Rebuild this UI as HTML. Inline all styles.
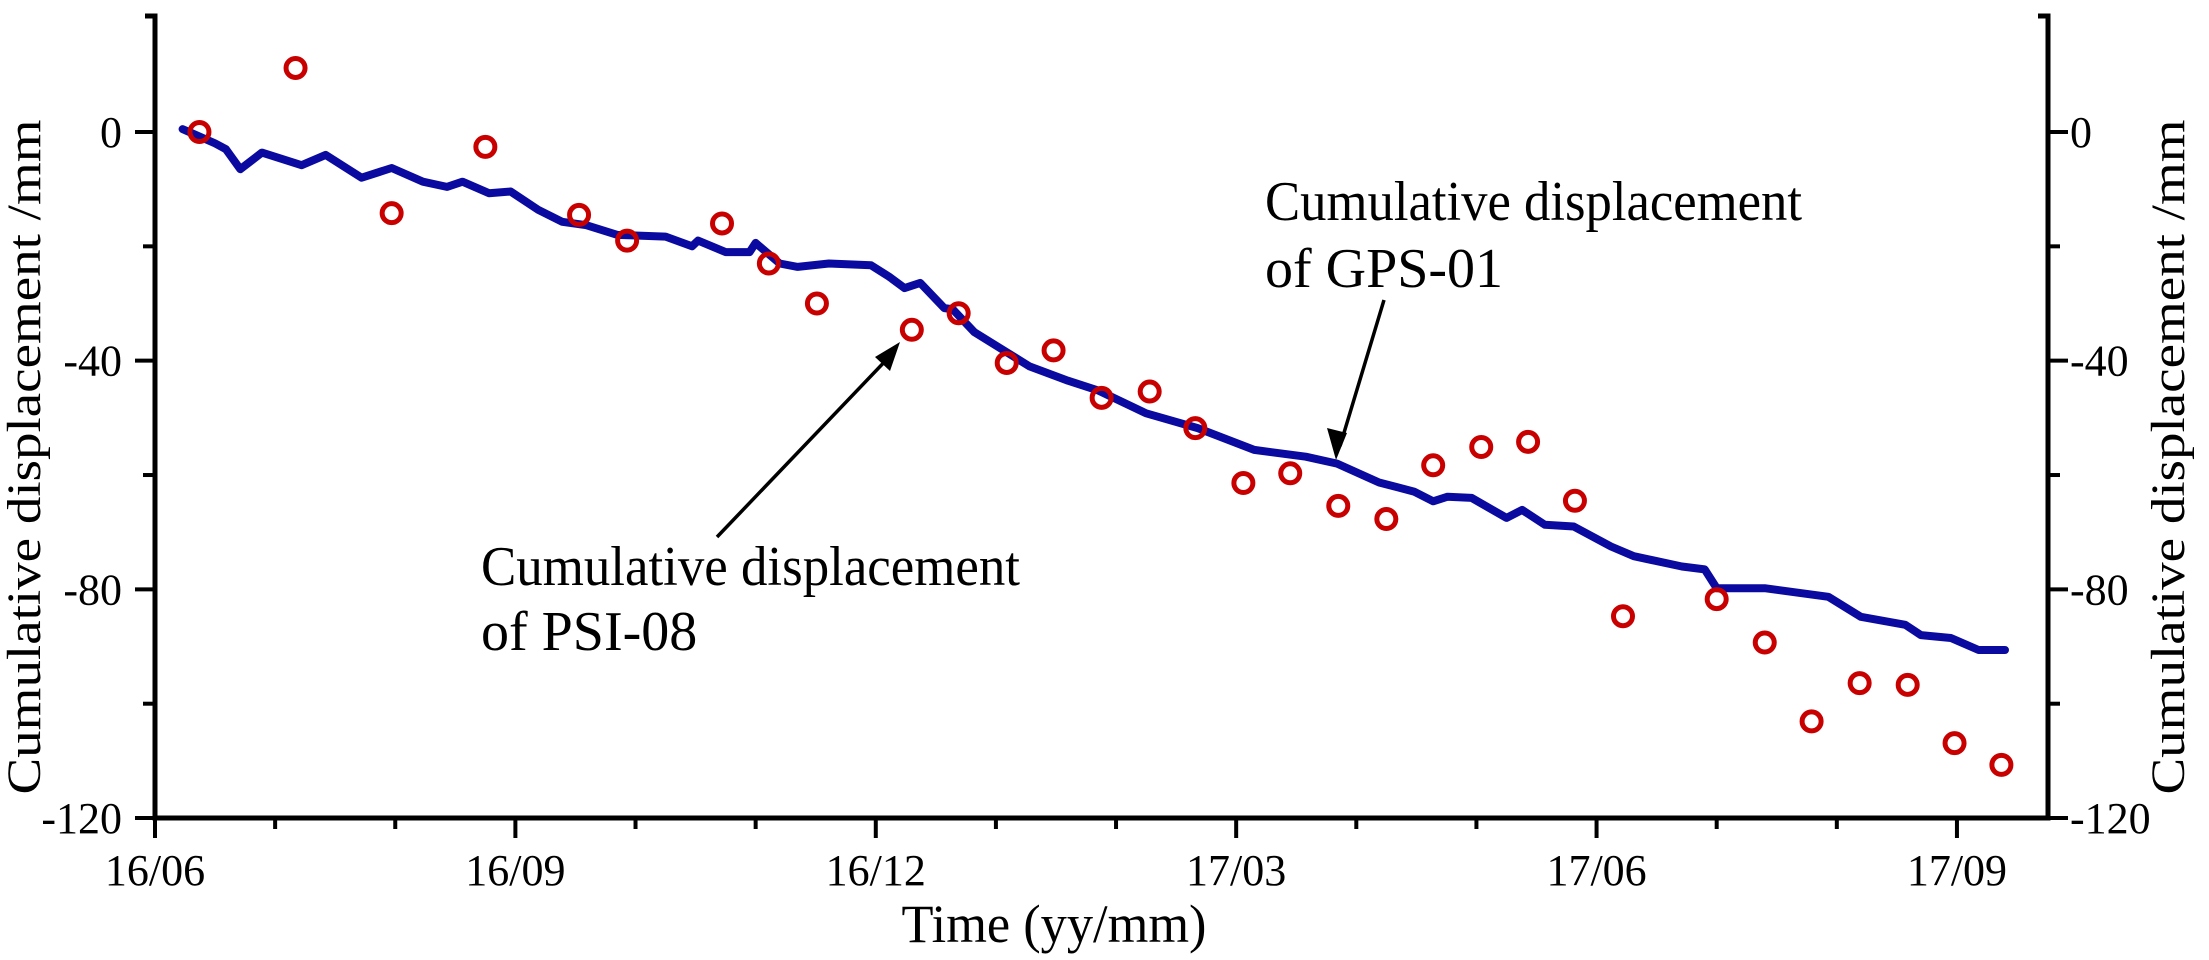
<!DOCTYPE html>
<html><head><meta charset="utf-8"><style>
html,body{margin:0;padding:0;background:#fff;}
svg{display:block;font-family:"Liberation Serif","DejaVu Serif",serif;}
</style></head>
<body>
<svg id="chart" width="2209" height="960" viewBox="0 0 2209 960" xmlns="http://www.w3.org/2000/svg">
<g id="marks"></g>
<g id="axes"></g>
<text x="1054" y="942" font-size="54" text-anchor="middle" textLength="305" lengthAdjust="spacingAndGlyphs">Time (yy/mm)</text>
<text transform="translate(40,457) rotate(-90)" font-size="48" text-anchor="middle" textLength="675" lengthAdjust="spacingAndGlyphs">Cumulative displacement /mm</text>
<text transform="translate(2184,457) rotate(-90)" font-size="48" text-anchor="middle" textLength="675" lengthAdjust="spacingAndGlyphs">Cumulative displacement /mm</text>
<g>
<text x="1265" y="220" font-size="56" textLength="537" lengthAdjust="spacingAndGlyphs">Cumulative displacement</text>
<text x="1265" y="287" font-size="56">of GPS-01</text>
<line x1="1384" y1="300" x2="1340" y2="446" stroke="#000" stroke-width="3.5"/>
<polygon points="1336,460 1327,428 1347,433" fill="#000"/>
</g>
<g>
<text x="481" y="585" font-size="56" textLength="539" lengthAdjust="spacingAndGlyphs">Cumulative displacement</text>
<text x="481" y="650" font-size="56">of PSI-08</text>
<line x1="717" y1="537" x2="892" y2="354" stroke="#000" stroke-width="3.5"/>
<polygon points="900,342 875,357 890,371" fill="#000"/>
</g>
</svg>
<script>
// months since 2016-06 and displacement (mm)
const psiMonths = [0.37,1.17,1.97,2.75,3.53,3.93,4.72,5.11,5.51,6.30,6.69,7.09,7.48,7.88,8.28,8.66,9.06,9.45,9.85,10.25,10.64,11.04,11.43,11.82,12.22,13.0,13.4,13.79,14.19,14.59,14.98,15.37];
const psiValues = [0,11.2,-14.2,-2.6,-14.5,-19,-16,-23,-30,-34.6,-31.7,-40.4,-38.2,-46.5,-45.4,-51.8,-61.4,-59.7,-65.4,-67.7,-58.3,-55.1,-54.2,-64.5,-84.7,-81.7,-89.3,-103.1,-96.4,-96.7,-106.9,-110.7];
const gpsMonths = [0.23,0.5,0.59,0.71,0.89,1.22,1.42,1.72,1.97,2.23,2.43,2.56,2.78,2.96,3.19,3.39,3.59,3.85,4.25,4.47,4.52,4.75,4.95,5.0,5.2,5.35,5.61,5.96,6.11,6.24,6.37,6.57,6.64,6.82,7.02,7.28,7.6,7.85,8.25,8.68,9.15,9.58,9.84,10.19,10.48,10.64,10.76,10.96,11.25,11.38,11.57,11.81,12.12,12.31,12.71,12.9,13.0,13.4,13.93,14.2,14.57,14.7,14.95,15.18,15.4];
const gpsValues = [0.5,-2,-3,-6.5,-3.6,-5.8,-4,-8,-6.3,-8.7,-9.6,-8.7,-10.7,-10.4,-13.6,-15.7,-16.3,-18,-18.3,-20,-19,-21,-21,-19.4,-23,-23.6,-23,-23.3,-25.3,-27.3,-26.4,-30.8,-31,-35,-37.6,-41,-43.5,-45.2,-49.2,-51.8,-55.6,-56.8,-58,-61.3,-62.9,-64.6,-63.8,-64,-67.5,-66.1,-68.7,-69,-72.5,-74.2,-76,-76.5,-79.8,-79.8,-81.3,-84.8,-86.2,-88,-88.5,-90.6,-90.6];
const xTickMonths = [0,3,6,9,12,15];
const xTickLabels = ["16/06","16/09","16/12","17/03","17/06","17/09"];
const yTickValues = [0,-40,-80,-120];
const yTickLabels = ["0","-40","-80","-120"];

const NS="http://www.w3.org/2000/svg";
const X0=155, XR=2048, YT=16, YB=818;
function xs(m){return 155 + m*120.13;}
function ys(v){return 132 - v*5.717;}
function mk(tag,attrs,parent){const e=document.createElementNS(NS,tag);for(const k in attrs)e.setAttribute(k,attrs[k]);parent.appendChild(e);return e;}
const marks=document.getElementById('marks'), axes=document.getElementById('axes');

let d="";
for(let i=0;i<gpsMonths.length;i++){d+=(i?"L":"M")+xs(gpsMonths[i]).toFixed(1)+","+ys(gpsValues[i]).toFixed(1);}
const line=mk('path',{d:d,fill:'none',stroke:'#0a0aa0','stroke-width':8,'stroke-linejoin':'round','stroke-linecap':'round'},marks);



for(let i=0;i<psiMonths.length;i++){
  const c=mk('circle',{cx:xs(psiMonths[i]),cy:ys(psiValues[i]),r:9.5,fill:'none',stroke:'#c80000','stroke-width':5},marks);
  
  
}

const ax=mk('path',{d:`M${X0-10},${YT} L${X0},${YT} L${X0},${YB} L${XR},${YB} L${XR},${YT} L${XR-10},${YT}`,fill:'none',stroke:'#000','stroke-width':5},axes);



for(let m=0;m<=15;m++){
  const major=xTickMonths.indexOf(m)>=0;
  const t=mk('line',{x1:xs(m),x2:xs(m),y1:YB,y2:YB+(major?20:11),stroke:'#000','stroke-width':4},axes);
  
  
}
for(let i=0;i<xTickMonths.length;i++){
  const t=mk('text',{x:xs(xTickMonths[i]),y:885,'font-size':44,'text-anchor':'middle'},axes);
  t.textContent=xTickLabels[i];
  
  
}
for(let v=0;v>=-120;v-=20){
  const major=yTickValues.indexOf(v)>=0;
  const len=major?20:12;
  const a=mk('line',{x1:X0-len,x2:X0,y1:ys(v),y2:ys(v),stroke:'#000','stroke-width':4},axes);
  
  
  const b=mk('line',{x1:XR,x2:XR+len,y1:ys(v),y2:ys(v),stroke:'#000','stroke-width':4},axes);
  
  
}
for(let i=0;i<yTickValues.length;i++){
  const l=mk('text',{x:122,y:ys(yTickValues[i])+15,'font-size':44,'text-anchor':'end'},axes);
  l.textContent=yTickLabels[i];
  
  
  const r=mk('text',{x:2070,y:ys(yTickValues[i])+15,'font-size':44,'text-anchor':'start'},axes);
  r.textContent=yTickLabels[i];
  
  
}
</script>
</body></html>
